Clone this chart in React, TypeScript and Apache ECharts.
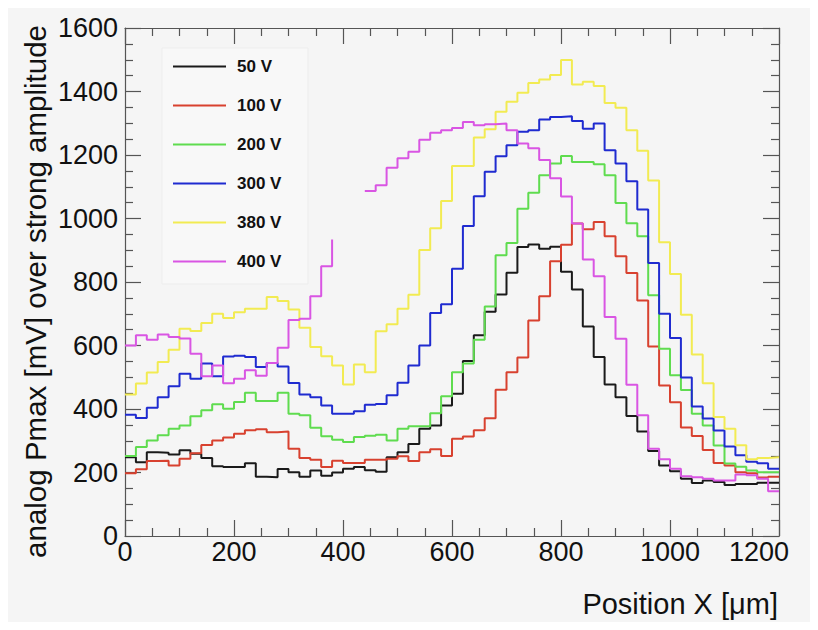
import React, { useEffect, useRef } from "react";
import * as echarts from "echarts";

// ---- data (bin width 20 µm, 60 bins from 0 to 1200 µm) ----
const BIN_WIDTH = 20;
const xTickValues = [0, 200, 400, 600, 800, 1000, 1200];
const yTickValues = [0, 200, 400, 600, 800, 1000, 1200, 1400, 1600];

const seriesNames = ["50 V", "100 V", "200 V", "300 V", "380 V", "400 V"];
const seriesColors = ["#1a1a1a", "#d8412f", "#5fdc4f", "#1f2bd0", "#f2eb52", "#d955e3"];

const v50 = [
  248, 232, 264, 262, 257, 270, 259, 246, 220, 217,
  217, 229, 187, 185, 211, 201, 187, 206, 190, 200,
  212, 217, 207, 202, 248, 264, 290, 338, 348, 411,
  448, 551, 632, 706, 761, 829, 910, 918, 905, 911,
  832, 776, 660, 564, 477, 437, 378, 329, 268, 222,
  204, 180, 167, 175, 170, 161, 164, 164, 168, 168,
];
const v100 = [
  198, 210, 236, 237, 222, 243, 261, 287, 301, 310,
  322, 333, 336, 327, 329, 275, 246, 240, 217, 237,
  230, 230, 240, 240, 243, 251, 236, 264, 273, 252,
  306, 313, 333, 371, 461, 516, 562, 679, 755, 865,
  917, 984, 966, 989, 944, 881, 828, 742, 597, 474,
  421, 342, 315, 271, 230, 222, 201, 198, 184, 187,
];
const v200 = [
  252, 280, 301, 317, 338, 348, 377, 396, 415, 401,
  422, 451, 425, 425, 451, 385, 380, 341, 314, 303,
  296, 312, 316, 319, 301, 338, 346, 346, 387, 440,
  516, 543, 618, 723, 884, 923, 1031, 1081, 1136, 1173,
  1197, 1178, 1178, 1171, 1136, 1049, 985, 944, 758, 590,
  506, 460, 385, 348, 285, 228, 218, 206, 201, 201,
];
const v300 = [
  382, 372, 404, 437, 472, 511, 495, 543, 503, 565,
  568, 564, 532, 545, 534, 482, 446, 437, 411, 385,
  385, 393, 413, 416, 443, 483, 537, 600, 702, 730,
  842, 976, 1070, 1147, 1196, 1231, 1273, 1278, 1312, 1320,
  1322, 1307, 1283, 1299, 1215, 1173, 1117, 1028, 860, 700,
  624, 499, 408, 370, 332, 282, 254, 234, 229, 212,
];
const v380 = [
  446, 480, 515, 548, 587, 653, 646, 671, 700, 687,
  705, 716, 716, 753, 740, 713, 656, 595, 566, 537,
  477, 540, 516, 645, 667, 716, 760, 901, 969, 1055,
  1165, 1165, 1255, 1281, 1336, 1368, 1396, 1427, 1438, 1452,
  1499, 1422, 1431, 1417, 1364, 1349, 1278, 1213, 1120, 925,
  825, 697, 572, 481, 375, 338, 286, 242, 246, 248,
];
const v400: (number | null)[] = [
  600, 632, 618, 635, 627, 622, 574, 503, 537, 481,
  495, 522, 505, 545, 593, 680, 684, 755, 850, 934,
  null, null, 1087, 1105, 1160, 1190, 1210, 1248, 1270, 1278,
  1285, 1304, 1294, 1297, 1299, 1278, 1236, 1221, 1184, 1127,
  1069, 984, 871, 818, 690, 621, 476, 380, 275, 242,
  212, 188, 185, 180, 175, 175, 194, 191, 180, 141,
];
const allValues = [v50, v100, v200, v300, v380, v400];

// histogram outline: each bin drawn as a flat top, risers between bins;
// a bin followed by an empty bin keeps only its riser (as in the original)
function histogramOutline(vals: (number | null)[]) {
  const pts: (number | null)[][] = [];
  for (let i = 0; i < vals.length; i++) {
    const v = vals[i];
    const x0 = i * BIN_WIDTH;
    const x1 = (i + 1) * BIN_WIDTH;
    if (v === null) {
      pts.push([x0, null]);
      continue;
    }
    pts.push([x0, v]);
    if (i + 1 < vals.length && vals[i + 1] === null) continue;
    pts.push([x1, v]);
  }
  return pts;
}

const FONT = "'Liberation Sans', Arial, Helvetica, sans-serif";
const AXIS_COLOR = "#555";

export default function App() {
  const ref = useRef<HTMLDivElement>(null);

  useEffect(() => {
    if (!ref.current) return;
    const chart = echarts.init(ref.current, null, { renderer: "svg" });

    const xMin = xTickValues[0];
    const xMax = xTickValues[xTickValues.length - 1];
    const yMin = yTickValues[0];
    const yMax = yTickValues[yTickValues.length - 1];

    const baseX = (pos: "bottom" | "top", showLabel: boolean) => ({
      type: "value",
      position: pos,
      min: xMin,
      max: xMax,
      interval: xTickValues[1] - xTickValues[0],
      axisLine: { show: true, onZero: false, lineStyle: { color: AXIS_COLOR, width: 1.2 } },
      axisTick: { show: true, inside: true, length: 16, lineStyle: { color: AXIS_COLOR, width: 1.2 } },
      minorTick: { show: true, splitNumber: 4, length: 8, lineStyle: { color: AXIS_COLOR, width: 1.2 } },
      splitLine: { show: false },
      axisLabel: showLabel
        ? {
            show: true,
            margin: 2,
            color: "#111",
            fontSize: 27,
            fontFamily: FONT,
            formatter: (v: number) => (v === xMax ? `{last|${v}}` : `${v}`),
            rich: {
              last: { fontSize: 27, fontFamily: FONT, color: "#111", padding: [0, 40, 0, 0] },
            },
          }
        : { show: false },
    });

    const baseY = (pos: "left" | "right", showLabel: boolean) => ({
      type: "value",
      position: pos,
      min: yMin,
      max: yMax,
      interval: yTickValues[1] - yTickValues[0],
      axisLine: { show: true, onZero: false, lineStyle: { color: AXIS_COLOR, width: 1.2 } },
      axisTick: { show: true, inside: true, length: 16, lineStyle: { color: AXIS_COLOR, width: 1.2 } },
      minorTick: { show: true, splitNumber: 4, length: 8, lineStyle: { color: AXIS_COLOR, width: 1.2 } },
      splitLine: { show: false },
      axisLabel: showLabel
        ? {
            show: true,
            margin: 7,
            color: "#111",
            fontSize: 27,
            fontFamily: FONT,
            formatter: (v: number) => `${v}`,
          }
        : { show: false },
    });

    chart.setOption({
      animation: false,
      backgroundColor: "#f5f5f5",
      grid: { left: 117, right: 31, top: 20, bottom: 86, containLabel: false, outerBoundsMode: "none" },
      xAxis: [baseX("bottom", true), baseX("top", false)],
      yAxis: [baseY("left", true), baseY("right", false)],
      legend: {
        show: true,
        orient: "vertical",
        left: 165,
        top: 50,
        padding: 0,
        itemGap: 22,
        itemWidth: 53,
        itemHeight: 2,
        icon: "rect",
        selectedMode: false,
        data: seriesNames,
        textStyle: {
          fontFamily: FONT,
          fontWeight: "bold",
          fontSize: 17,
          color: "#111",
          padding: [0, 0, 0, 6],
        },
      },
      graphic: [
        {
          type: "rect",
          z: -1,
          silent: true,
          shape: { x: 154, y: 40, width: 146, height: 236 },
          style: { fill: "#f8f8f8", stroke: "#ededed", lineWidth: 1 },
        },
        {
          type: "text",
          x: 27,
          y: 17,
          rotation: Math.PI / 2,
          style: {
            text: "analog Pmax [mV] over strong amplitude",
            fontFamily: FONT,
            fontSize: 29.5,
            fill: "#111",
            align: "right",
            verticalAlign: "middle",
          },
        },
        {
          type: "text",
          x: 770,
          y: 596,
          style: {
            text: "Position X [μm]",
            fontFamily: FONT,
            fontSize: 29,
            fill: "#111",
            align: "right",
            verticalAlign: "middle",
          },
        },
      ],
      series: allValues.map((vals, k) => ({
        name: seriesNames[k],
        type: "line",
        xAxisIndex: 0,
        yAxisIndex: 0,
        data: histogramOutline(vals),
        showSymbol: false,
        symbol: "none",
        connectNulls: false,
        color: seriesColors[k],
        itemStyle: { color: seriesColors[k] },
        lineStyle: { color: seriesColors[k], width: 2 },
        emphasis: { disabled: true },
      })),
    });

    return () => chart.dispose();
  }, []);

  return <div ref={ref} style={{ width: 802, height: 614 }} />;
}
